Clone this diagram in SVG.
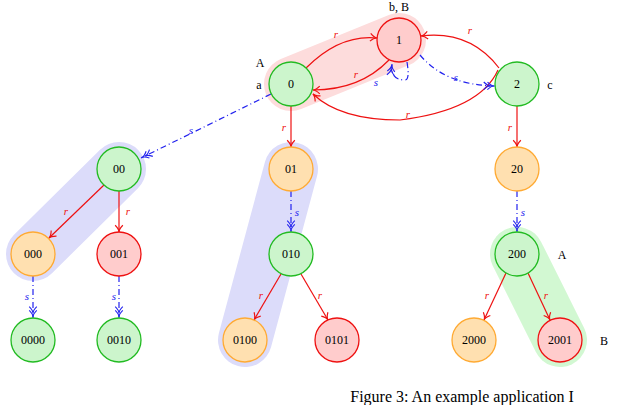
<svg xmlns="http://www.w3.org/2000/svg" width="640" height="405" viewBox="0 0 640 405">
<style>
.n circle{stroke-width:1.3}
.g circle{fill:#ccf5cc;stroke:#22bb22}
.rd circle{fill:#ffcccc;stroke:#ee1111}
.o circle{fill:#ffe0b0;stroke:#ffaa33}
text{font-family:"Liberation Serif",serif;font-size:12px;text-anchor:middle}
.lr{fill:#ee1111;font-style:italic;font-size:11px}
.ls{fill:#2222ee;font-style:italic;font-size:11px}
.r{stroke:#ee1111;fill:none;stroke-width:1.2;marker-end:url(#ar)}
.s{stroke:#2222ee;fill:none;stroke-width:1.2;stroke-dasharray:6 3 1 3;marker-end:url(#as)}
.hl{fill:none;stroke-width:54;stroke-linecap:round}
</style>
<defs>
<marker id="ar" viewBox="0 0 10 10" refX="9" refY="5" markerWidth="8" markerHeight="8" orient="auto"><path d="M2,1 Q6,5 9,5 Q6,5 2,9" fill="none" stroke="#ee1111" stroke-width="1.2"/></marker>
<marker id="as" viewBox="0 0 14 10" refX="13" refY="5" markerWidth="11" markerHeight="8" orient="auto"><path d="M1,1 Q5,5 8,5 Q5,5 1,9 M5,1 Q9,5 12,5 Q9,5 5,9" fill="none" stroke="#2222ee" stroke-width="1.2"/></marker>
</defs>
<g id="highlights">
<path class="hl" stroke="#fddcdc" d="M291,84 L399,40"/>
<path class="hl" stroke="#dcdcfa" d="M119,169 L33,254"/>
<path class="hl" stroke="#dcdcfa" d="M291,169 L245,340"/>
<path class="hl" stroke="#d2f8d2" d="M517,254 L560,340"/>
</g>
<g id="connectors">
<path class="r" d="M306,68 Q340,34 377,38"/>
<path class="r" d="M389,60 Q360,90 313,90"/>
<path class="r" d="M498,70 Q480,110 400,120 Q340,120 313,94"/>
<path class="r" d="M499,68 Q470,30 421,36"/>
<path class="s" d="M407,62 Q410,80 405,80 Q390,80 392,64"/>
<path class="s" d="M420,55 Q445,85 495,86"/>
<path class="s" d="M271,94 L141,158"/>
<path class="r" d="M291,106 L291,147"/>
<path class="r" d="M517,106 L517,147"/>
<path class="s" d="M517,191 L517,232"/>
<path class="s" d="M291,191 L291,232"/>
<path class="r" d="M104,185 L49,238"/>
<path class="r" d="M119,191 L119,232"/>
<path class="s" d="M33,276 L33,318"/>
<path class="s" d="M119,276 L119,318"/>
<path class="r" d="M281,274 L254,320"/>
<path class="r" d="M301,274 L328,320"/>
<path class="r" d="M506,273 L484,320"/>
<path class="r" d="M528,273 L550,320"/>
<text class="lr" x="336" y="38">r</text>
<text class="lr" x="356" y="78">r</text>
<text class="lr" x="408" y="118">r</text>
<text class="lr" x="470" y="34">r</text>
<text class="ls" x="376" y="86">s</text>
<text class="ls" x="456" y="81">s</text>
<text class="ls" x="191" y="134">s</text>
<text class="lr" x="284" y="131">r</text>
<text class="lr" x="510" y="131">r</text>
<text class="ls" x="523" y="216">s</text>
<text class="ls" x="297" y="216">s</text>
<text class="lr" x="66" y="215">r</text>
<text class="lr" x="128" y="215">r</text>
<text class="ls" x="27" y="300">s</text>
<text class="ls" x="114" y="300">s</text>
<text class="lr" x="261" y="299">r</text>
<text class="lr" x="320" y="299">r</text>
<text class="lr" x="487" y="299">r</text>
<text class="lr" x="546" y="299">r</text>
</g>
<g id="n0" class="n g"><circle cx="291" cy="84" r="22"/><text x="291" y="88">0</text></g>
<g id="n1" class="n rd"><circle cx="399" cy="40" r="22"/><text x="399" y="44">1</text></g>
<g id="n2" class="n g"><circle cx="517" cy="84" r="22"/><text x="517" y="88">2</text></g>
<g id="n00" class="n g"><circle cx="119" cy="169" r="22"/><text x="119" y="173">00</text></g>
<g id="n01" class="n o"><circle cx="291" cy="169" r="22"/><text x="291" y="173">01</text></g>
<g id="n20" class="n o"><circle cx="517" cy="169" r="22"/><text x="517" y="173">20</text></g>
<g id="n000" class="n o"><circle cx="33" cy="254" r="22"/><text x="33" y="258">000</text></g>
<g id="n001" class="n rd"><circle cx="119" cy="254" r="22"/><text x="119" y="258">001</text></g>
<g id="n010" class="n g"><circle cx="291" cy="254" r="22"/><text x="291" y="258">010</text></g>
<g id="n200" class="n g"><circle cx="517" cy="254" r="22"/><text x="517" y="258">200</text></g>
<g id="n0000" class="n g"><circle cx="33" cy="340" r="22"/><text x="33" y="344">0000</text></g>
<g id="n0010" class="n g"><circle cx="119" cy="340" r="22"/><text x="119" y="344">0010</text></g>
<g id="n0100" class="n o"><circle cx="245" cy="340" r="22"/><text x="245" y="344">0100</text></g>
<g id="n0101" class="n rd"><circle cx="337" cy="340" r="22"/><text x="337" y="344">0101</text></g>
<g id="n2000" class="n o"><circle cx="474" cy="340" r="22"/><text x="474" y="344">2000</text></g>
<g id="n2001" class="n rd"><circle cx="560" cy="340" r="22"/><text x="560" y="344">2001</text></g>
<g id="labels">
<text x="260" y="67">A</text>
<text x="259" y="89">a</text>
<text x="399" y="11">b, B</text>
<text x="550" y="89">c</text>
<text x="562" y="259">A</text>
<text x="604" y="345">B</text>
<text x="462" y="402" style="font-size:16px">Figure 3: An example application I</text>
</g>
</svg>
